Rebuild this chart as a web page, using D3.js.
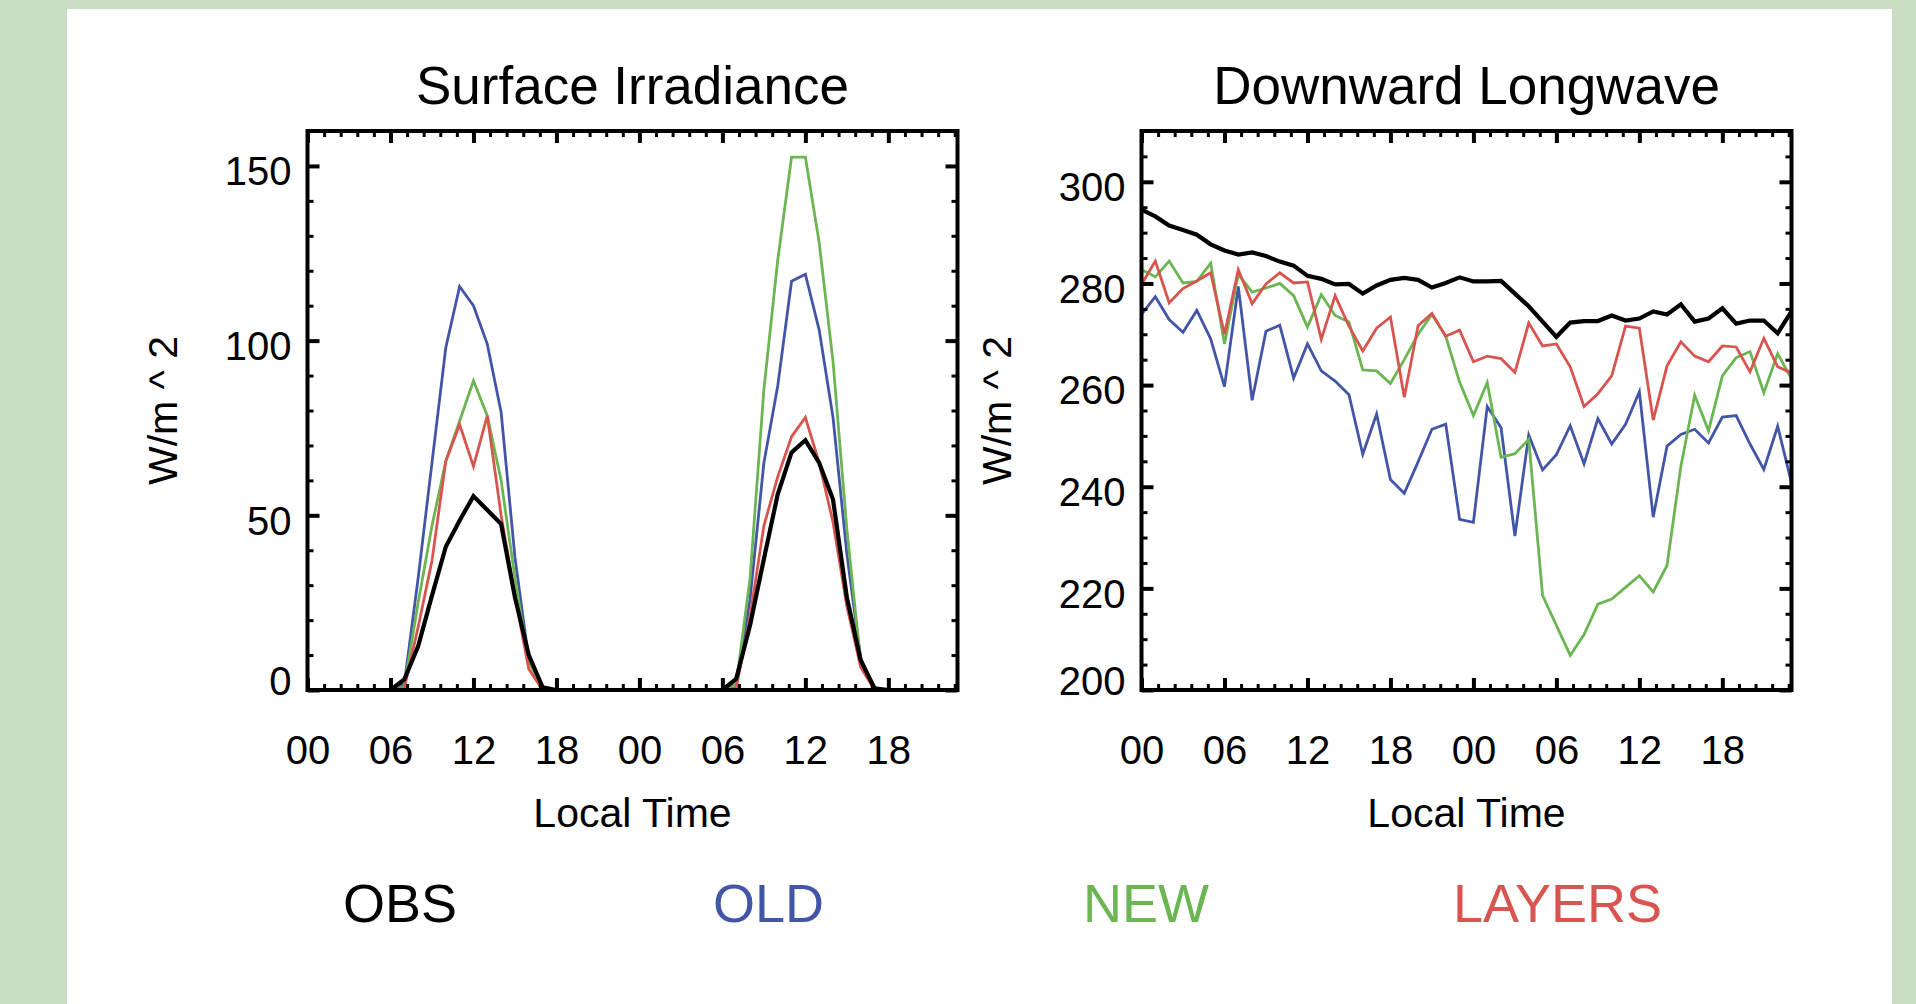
<!DOCTYPE html>
<html><head><meta charset="utf-8">
<script src="https://cdn.jsdelivr.net/npm/d3@7"></script>
<style>html,body{margin:0;padding:0;background:#c9dcc4;overflow:hidden}
text{font-family:"Liberation Sans",Arial,Helvetica,sans-serif}</style>
</head><body><svg id="c" width="1916" height="1004"></svg>
<script>
// ---------------- data ----------------
const hours = [0,1,2,3,4,5,6,7,8,9,10,11,12,13,14,15,16,17,18,19,20,21,22,23,24,25,26,27,28,29,30,31,32,33,34,35,36,37,38,39,40,41,42,43,44,45,46,47];
const xTickValues = [0,6,12,18,24,30,36,42];
const xTickLabels = ["00","06","12","18","00","06","12","18"];
const swTickValues = [0,50,100,150];
const lwTickValues = [200,220,240,260,280,300];
const seriesNames = ["OBS","OLD","NEW","LAYERS"];
const seriesColors = ["#000000","#4355a7","#6cb553","#d8544f"];
const panelTitles = ["Surface Irradiance","Downward Longwave"];
const xAxisTitle = "Local Time";
const yAxisTitle = "W/m ^ 2";

// Surface irradiance (W/m^2), hourly
const swOBS = [0,0,0,0,0,0,0,3,12.5,27,41,48.5,55.5,51.5,47.5,26.5,10,0.8,0,0,0,0,0,0,0,0,0,0,0,0,0,3.2,18.5,37.5,56,68,71.5,65,54.5,26.5,8.5,0.5,0,0,0,0,0,0];
const swOLD = [0,0,0,0,0,0,0,1.7,32,65,98,115.5,110,99,79.5,38,8.5,0.5,0,0,0,0,0,0,0,0,0,0,0,0,0,1.6,26,65,87,117,119,103,78,39,9,0.5,0,0,0,0,0,0];
const swNEW = [0,0,0,0,0,0,0,1,25,47,65.5,77,88.5,78.5,60,32,8,0.5,0,0,0,0,0,0,0,0,0,0,0,0,0,1.6,32,86,123,152.5,152.5,128,94,46,8,0.3,0,0,0,0,0,0];
const swLAY = [0,0,0,0,0,0,0,0.5,18,37,65.5,76,64,78.5,50,27,6,0,0,0,0,0,0,0,0,0,0,0,0,0,0,0.5,21,47,61,72.5,78,65,48,24,6.5,0,0,0,0,0,0,0];

// Downward longwave (W/m^2), hourly
const lwOBS = [294.5,293.2,291.4,290.5,289.6,287.7,286.5,285.7,286.1,285.4,284.3,283.5,281.5,280.9,279.8,279.9,278.0,279.6,280.7,281.1,280.7,279.2,280.1,281.2,280.4,280.4,280.5,278.0,275.5,272.5,269.5,272.3,272.6,272.6,273.7,272.7,273.1,274.5,273.9,275.9,272.5,273.1,275.1,272.1,272.7,272.7,270.2,274.5];
const lwOLD = [273.9,277.4,272.9,270.4,274.7,269.1,259.7,279.4,257.0,270.6,271.8,261.4,268.1,262.8,260.8,258.1,246.4,254.3,241.4,238.7,244.9,251.3,252.3,233.6,233.0,255.8,251.6,230.3,250.2,243.3,246.3,252.0,244.5,253.4,248.4,252.3,258.7,234.0,248.0,250.3,251.3,248.6,253.7,254.0,248.4,243.4,251.9,240.8];
const lwNEW = [282.7,281.3,284.4,280.1,280.4,284.0,268.1,281.8,278.3,279.1,280.0,277.6,271.4,277.8,273.7,272.4,263.0,262.8,260.3,265.0,270.0,273.9,269.6,260.6,254.0,260.5,245.8,246.5,249.3,218.6,212.7,206.8,210.9,216.9,217.9,220.2,222.5,219.3,224.5,244.0,258.0,251.0,261.8,265.4,266.6,258.5,266.2,261.2];
const lwLAY = [279.8,284.4,276.2,279.0,280.5,282.1,270.0,282.7,276.0,279.9,282.1,280.1,280.3,269.0,277.6,271.6,266.7,271.2,273.4,257.6,271.7,274.1,269.6,270.8,264.6,265.7,265.2,262.5,272.2,267.7,268.1,263.6,255.8,258.3,261.8,271.6,271.2,253.1,263.8,268.5,265.7,264.6,267.7,267.5,262.6,269.2,263.6,262.4];

// ---------------- drawing ----------------
const svg = d3.select("#c");
svg.append("rect").attr("x",0).attr("y",0).attr("width",1916).attr("height",1004).attr("fill","#c9dcc4");
svg.append("rect").attr("x",67).attr("y",9).attr("width",1825).attr("height",995).attr("fill","#ffffff");

const plotTop = 131, plotBottom = 690;
const panels = [
  {x0:307.5, x1:957.5, domain:[0,160], ticks:swTickValues, minorStep:10, series:[swOLD,swNEW,swLAY,swOBS], yTitleX:177},
  {x0:1141.5, x1:1791.5, domain:[200,310], ticks:lwTickValues, minorStep:5, series:[lwOLD,lwNEW,lwLAY,lwOBS], yTitleX:1011}
];
const drawColors = [seriesColors[1],seriesColors[2],seriesColors[3],seriesColors[0]];
const drawWidths = [2.8,2.8,2.8,4.2];
const FONT = '"Liberation Sans",Arial,Helvetica,sans-serif';

panels.forEach((p,pi)=>{
  const x = d3.scaleLinear().domain([0,47]).range([p.x0,p.x1]);
  const y = d3.scaleLinear().domain(p.domain).range([plotBottom,plotTop]);
  const g = svg.append("g");

  const clipId = "clip"+pi;
  svg.append("clipPath").attr("id",clipId).append("rect")
    .attr("x",p.x0).attr("y",plotTop).attr("width",p.x1-p.x0).attr("height",plotBottom-plotTop);
  const line = d3.line().x((d,i)=>x(hours[i])).y(d=>y(d));
  p.series.forEach((s,si)=>{
    g.append("path").datum(s).attr("d",line).attr("fill","none")
      .attr("stroke",drawColors[si]).attr("stroke-width",drawWidths[si])
      .attr("stroke-linejoin","miter").attr("clip-path","url(#"+clipId+")");
  });

  const xMinor = d3.range(0,47,1.2).filter(v=>v%6>0.01 && v%6<5.99);
  const yMinor = d3.range(p.domain[0],p.domain[1]+0.01,p.minorStep).filter(v=>!p.ticks.includes(v));
  const mk = (axis, tr) => {
    const a = g.append("g").attr("transform",tr).call(axis);
    a.select(".domain").remove();
    a.selectAll("text").remove();
    a.selectAll("line").attr("stroke","#000").attr("stroke-width",3);
  };
  mk(d3.axisBottom(x).tickValues(xMinor).tickSize(-6), `translate(0,${plotBottom})`);
  mk(d3.axisTop(x).tickValues(xMinor).tickSize(-6), `translate(0,${plotTop})`);
  mk(d3.axisLeft(y).tickValues(yMinor).tickSize(-6), `translate(${p.x0},0)`);
  mk(d3.axisRight(y).tickValues(yMinor).tickSize(-6), `translate(${p.x1},0)`);

  const mj = (axis, tr) => {
    const a = g.append("g").attr("transform",tr).call(axis);
    a.select(".domain").remove();
    a.selectAll("line").attr("stroke","#000").attr("stroke-width",4);
    return a;
  };
  const bx = mj(d3.axisBottom(x).tickValues(xTickValues).tickSize(-12).tickPadding(46)
      .tickFormat((d,i)=>xTickLabels[i]), `translate(0,${plotBottom})`);
  bx.selectAll("text").attr("font-size",40).attr("fill","#000").style("font-family",FONT);
  mj(d3.axisTop(x).tickValues(xTickValues).tickSize(-12).tickFormat(""), `translate(0,${plotTop})`);
  const ly = mj(d3.axisLeft(y).tickValues(p.ticks).tickSize(-12).tickPadding(16), `translate(${p.x0},0)`);
  ly.selectAll("text").attr("font-size",40).attr("fill","#000").attr("dy","0.47em").style("font-family",FONT)
    .attr("y", d => d === p.domain[0] ? -14 : 0);
  mj(d3.axisRight(y).tickValues(p.ticks).tickSize(-12).tickFormat(""), `translate(${p.x1},0)`);

  g.append("rect").attr("x",p.x0).attr("y",plotTop).attr("width",p.x1-p.x0).attr("height",plotBottom-plotTop)
    .attr("fill","none").attr("stroke","#000").attr("stroke-width",4);

  const cx = (p.x0+p.x1)/2;
  svg.append("text").attr("x",cx).attr("y",104).attr("text-anchor","middle")
    .attr("font-size",53).attr("fill","#000").text(panelTitles[pi]);
  svg.append("text").attr("x",cx).attr("y",827).attr("text-anchor","middle")
    .attr("font-size",41).attr("fill","#000").text(xAxisTitle);
  svg.append("text").attr("transform",`translate(${p.yTitleX},${(plotTop+plotBottom)/2}) rotate(-90)`)
    .attr("text-anchor","middle").attr("font-size",41).attr("fill","#000").text(yAxisTitle);
});

const legendX = [343,713,1083,1453];
seriesNames.forEach((n,i)=>{
  svg.append("text").attr("x",legendX[i]).attr("y",922).attr("font-size",54)
    .attr("fill",seriesColors[i]).text(n);
});
</script></body></html>
